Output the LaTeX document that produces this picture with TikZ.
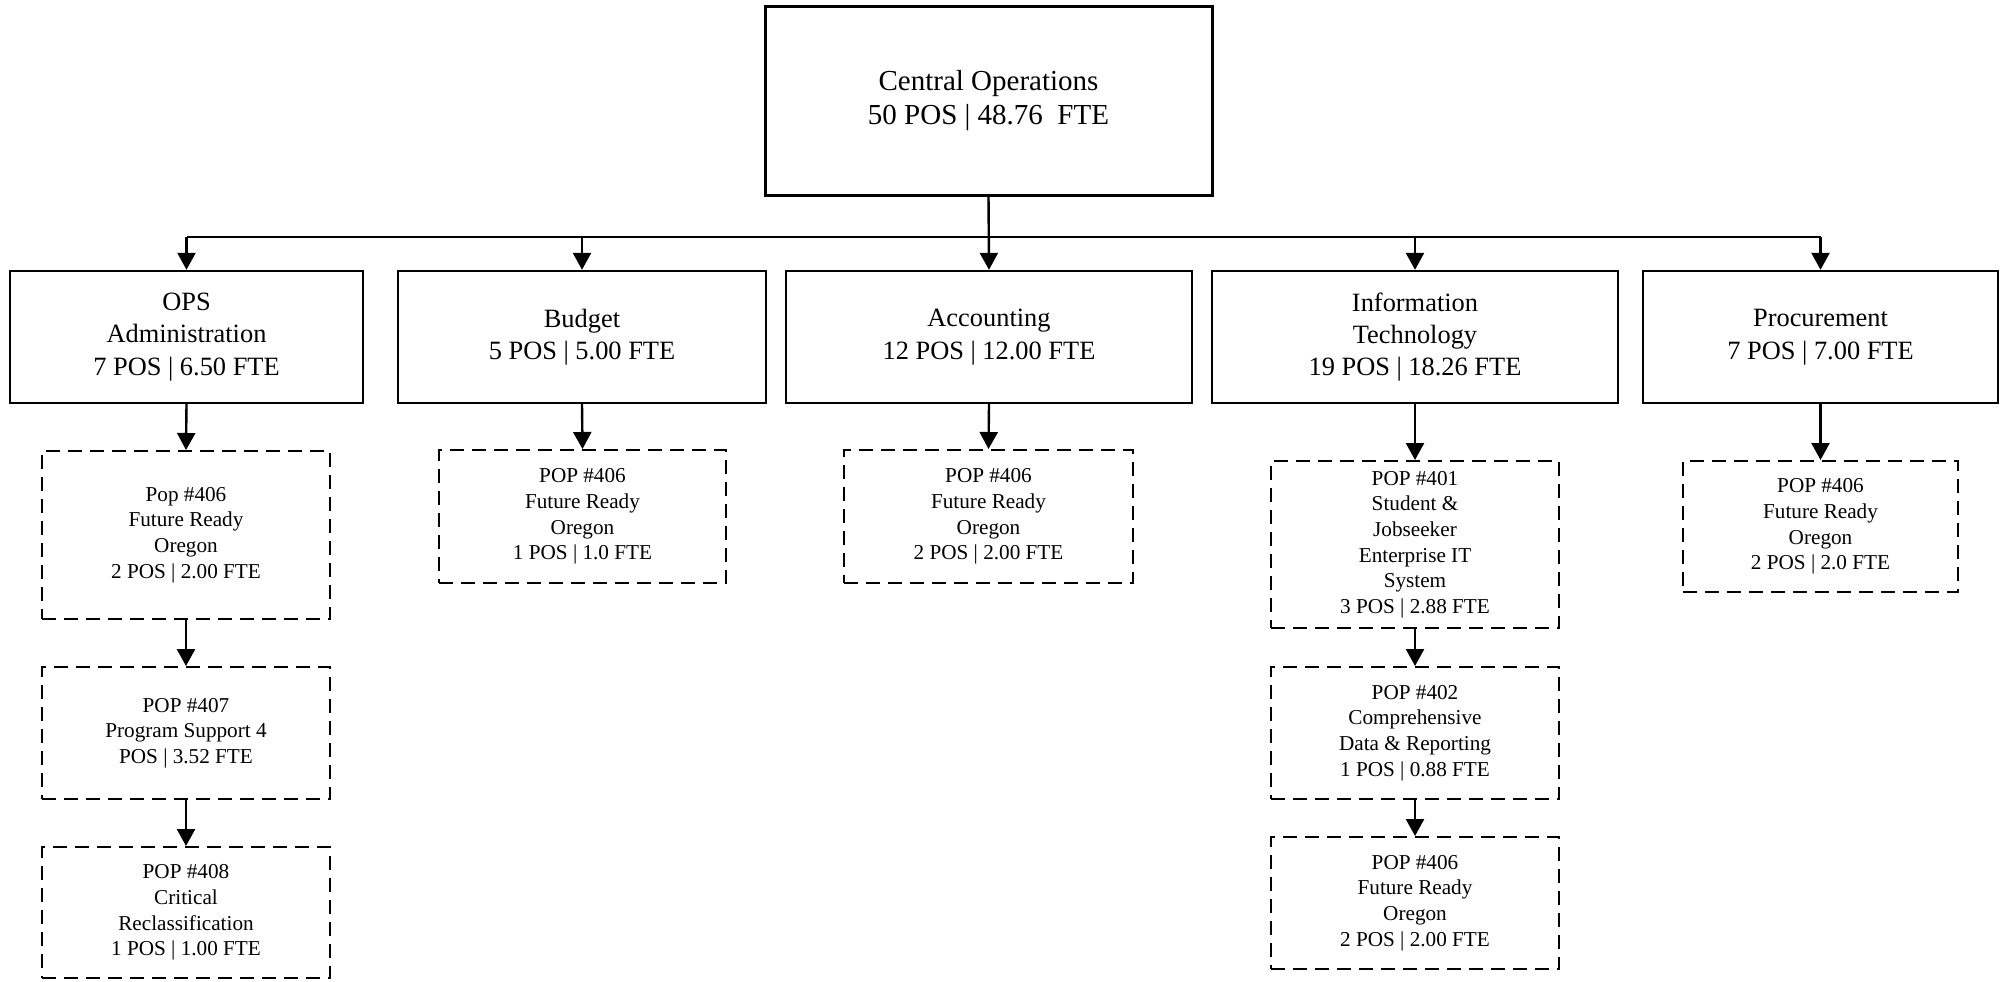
\documentclass[tikz,border=0pt]{standalone}
\usepackage{fontspec}
\setmainfont{Liberation Serif}
\usetikzlibrary{arrows.meta}

\tikzset{
  topbox/.style={draw, line width=1.5pt, align=center, inner sep=0pt,
    font=\fontsize{14.5pt}{17.5pt}\selectfont},
  unitbox/.style={draw, line width=1.2pt, align=center, inner sep=0pt,
    minimum height=66pt, font=\fontsize{13.2pt}{16.2pt}\selectfont},
  popbox/.style={draw, line width=1pt, dash pattern=on 7pt off 4pt,
    align=center, inner sep=0pt, font=\fontsize{10.6pt}{12.8pt}\selectfont},
  link/.style={line width=1.2pt},
  arr/.style={line width=1.2pt, -{Triangle[width=9pt,length=8.5pt]}}
}

\begin{document}
\begin{tikzpicture}[x=0.5pt, y=-0.5pt]
\useasboundingbox (0,0) rectangle (2000,981);

% head office
\node[topbox, minimum width=223.5pt, minimum height=94.5pt] (central) at (988.5,100.5)
  {\raisebox{-3pt}{\shortstack{Central Operations\\[1pt]50 POS | 48.76\ \ FTE}}};

% units
\node[unitbox, minimum width=176.5pt] (ops)  at (186.5,337) {OPS\\Administration\\7 POS | 6.50 FTE};
\node[unitbox, minimum width=184pt]   (bud)  at (582,337)   {Budget\\5 POS | 5.00 FTE};
\node[unitbox, minimum width=203pt]   (acc)  at (989,337)   {Accounting\\12 POS | 12.00 FTE};
\node[unitbox, minimum width=203pt]   (it)   at (1415,337)  {Information\\Technology\\19 POS | 18.26 FTE};
\node[unitbox, minimum width=177.5pt] (proc) at (1820.5,337){Procurement\\7 POS | 7.00 FTE};

% policy option packages
\node[popbox, minimum width=144pt, minimum height=84pt] (ops1) at (186,535)
  {Pop \#406\\Future Ready\\Oregon\\2 POS | 2.00 FTE};
\node[popbox, minimum width=144pt, minimum height=66pt] (ops2) at (186,733)
  {POP \#407\\Program Support 4\\POS | 3.52 FTE};
\node[popbox, minimum width=144pt, minimum height=65.5pt] (ops3) at (186,912.5)
  {POP \#408\\Critical\\Reclassification\\1 POS | 1.00 FTE};

\node[popbox, minimum width=143.5pt, minimum height=66.5pt] (bud1) at (582.5,516.5)
  {POP \#406\\Future Ready\\Oregon\\1 POS | 1.0 FTE};
\node[popbox, minimum width=144.5pt, minimum height=66.5pt] (acc1) at (988.5,516.5)
  {POP \#406\\Future Ready\\Oregon\\2 POS | 2.00 FTE};

\node[popbox, minimum width=144pt, minimum height=83.5pt] (it1) at (1415,544.5)
  {POP \#401\\Student \&\\Jobseeker\\Enterprise IT\\System\\3 POS | 2.88 FTE};
\node[popbox, minimum width=144pt, minimum height=66pt] (it2) at (1415,733)
  {POP \#402\\Comprehensive\\Data \& Reporting\\1 POS | 0.88 FTE};
\node[popbox, minimum width=144pt, minimum height=66pt] (it3) at (1415,903)
  {POP \#406\\Future Ready\\Oregon\\2 POS | 2.00 FTE};

\node[popbox, minimum width=137.5pt, minimum height=65.5pt] (proc1) at (1820.5,526.5)
  {POP \#406\\Future Ready\\Oregon\\2 POS | 2.0 FTE};

% distribution bus
\coordinate (bus) at (988.5,237);
\draw[link] (ops.north |- bus) -- (proc.north |- bus);
\draw[arr] (central.south) -- (acc.north);
\foreach \u in {ops,bud,it,proc}
  \draw[arr] (\u.north |- bus) -- (\u.north);

% unit to package chains
\draw[arr] (ops.south) -- (ops1.north);
\draw[arr] (ops1.south) -- (ops2.north);
\draw[arr] (ops2.south) -- (ops3.north);
\draw[arr] (bud.south) -- (bud1.north);
\draw[arr] (acc.south) -- (acc1.north);
\draw[arr] (it.south) -- (it1.north);
\draw[arr] (it1.south) -- (it2.north);
\draw[arr] (it2.south) -- (it3.north);
\draw[arr] (proc.south) -- (proc1.north);
\end{tikzpicture}
\end{document}
